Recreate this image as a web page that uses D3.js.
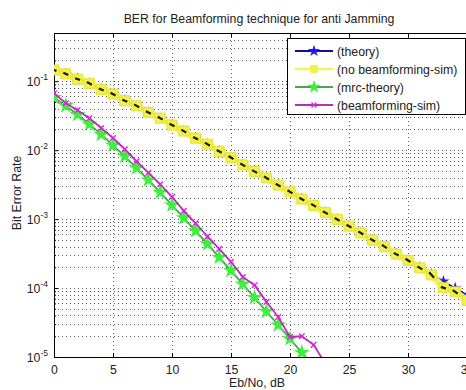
<!DOCTYPE html>
<html>
<head>
<meta charset="utf-8">
<script src="https://cdn.jsdelivr.net/npm/d3@7"></script>
<style>
  body { margin: 0; background: #fff; }
  text { font-family: "Liberation Sans", Arial, sans-serif; fill: #222; }
</style>
</head>
<body>
<div id="chart"></div>
<script>
// Eb/No (dB) for every series
const ebno = d3.range(0, 36);

// series values
const theory = [0.146, 0.127, 0.108, 0.092, 0.077, 0.064, 0.053, 0.0435, 0.0355, 0.0288,
  0.0233, 0.0187, 0.0151, 0.0121, 0.00967, 0.00774, 0.00617, 0.00492, 0.00392, 0.00312,
  0.00248, 0.00197, 0.00157, 0.00125, 0.000993, 0.000789, 0.000627, 0.000498, 0.000396, 0.000315,
  0.00025, 0.000199, 0.000158, 0.000125, 0.0000996, 0.0000791];
const noBfSim = [0.145, 0.128, 0.107, 0.093, 0.076, 0.065, 0.052, 0.044, 0.0352, 0.0291,
  0.0231, 0.0189, 0.0149, 0.0122, 0.0096, 0.0078, 0.0061, 0.0049, 0.00395, 0.0031,
  0.00249, 0.00195, 0.00158, 0.00124, 0.00099, 0.00079, 0.00063, 0.000495, 0.0004, 0.00031,
  0.000252, 0.000196, 0.000155, 0.000101, 0.000088, 0.000066];
const mrcTheory = [0.058, 0.0441, 0.0328, 0.0238, 0.0169, 0.0118, 0.00813, 0.00551, 0.00369, 0.00244,
  0.0016, 0.00104, 0.000677, 0.000436, 0.000279, 0.000179, 0.000114, 0.0000724, 0.000046, 0.0000291,
  0.0000184, 0.0000116, 0.0000074];
const bfSim = [0.067, 0.048, 0.038, 0.029, 0.021, 0.015, 0.0103, 0.0069, 0.0047, 0.0032,
  0.0021, 0.00132, 0.00087, 0.00056, 0.00037, 0.00024, 0.000145, 0.00011, 0.000063, 0.000038,
  0.0000195, 0.00002, 0.000015, 0.000008];

const xTicks = [0, 5, 10, 15, 20, 25, 30, 35];
const yDecades = [1e-5, 1e-4, 1e-3, 1e-2, 1e-1];
const yExponents = ['-5', '-4', '-3', '-2', '-1'];
const legendLabels = ['(theory)', '(no beamforming-sim)', '(mrc-theory)', '(beamforming-sim)'];

const W = 466, H = 390;
const FS = '12.3px';
const margin = { top: 33, right: -1, bottom: 33, left: 54 };
const pLeft = margin.left, pRight = W - margin.right;
const pTop = margin.top, pBottom = H - margin.bottom;

const svg = d3.select('#chart').append('svg')
  .attr('width', W).attr('height', H);

const x = d3.scaleLinear().domain([0, 35]).range([pLeft, pRight]);
const y = d3.scaleLog().domain([1e-5, 0.5]).range([pBottom, pTop]);

// minor log values 2..9 inside the domain
const minors = [];
yDecades.forEach(d => d3.range(2, 10).forEach(k => {
  const v = d * k;
  if (v < 0.5) minors.push(v);
}));

// dotted grid
const grid = svg.append('g').attr('stroke', '#333').attr('stroke-width', 1)
  .attr('stroke-dasharray', '1,3').attr('shape-rendering', 'crispEdges');
grid.selectAll('.gy').data(yDecades.slice(1).concat(minors)).enter().append('line')
  .attr('x1', pLeft).attr('x2', pRight)
  .attr('y1', d => Math.round(y(d)) + 0.5).attr('y2', d => Math.round(y(d)) + 0.5)
  .attr('stroke-opacity', 0.8);
grid.selectAll('.gx').data(xTicks.slice(1, -1)).enter().append('line')
  .attr('y1', pTop).attr('y2', pBottom)
  .attr('x1', d => Math.round(x(d)) + 0.5).attr('x2', d => Math.round(x(d)) + 0.5)
  .attr('stroke-opacity', 0.8);

// axes (MATLAB style, ticks inside)
const axB = svg.append('g').attr('transform', `translate(0,${pBottom})`)
  .call(d3.axisBottom(x).tickValues(xTicks).tickSize(-4).tickPadding(8).tickFormat(d3.format('d')));
const axT = svg.append('g').attr('transform', `translate(0,${pTop})`)
  .call(d3.axisTop(x).tickValues(xTicks).tickSize(-4).tickFormat(''));
const axL = svg.append('g').attr('transform', `translate(${pLeft},0)`)
  .call(d3.axisLeft(y).tickValues(yDecades).tickSize(-4).tickFormat(''));
const axLm = svg.append('g').attr('transform', `translate(${pLeft},0)`)
  .call(d3.axisLeft(y).tickValues(minors).tickSize(-2).tickFormat(''));
[axB, axT, axL, axLm].forEach(a => {
  a.select('.domain').attr('stroke', '#000');
  a.selectAll('.tick line').attr('stroke', '#000');
});
axB.selectAll('text').attr('font-size', FS)
  .attr('font-family', '"Liberation Sans", Arial, sans-serif').attr('fill', '#222');
axLm.select('.domain').remove();

// y tick labels 10^k
const yl = svg.append('g').selectAll('text').data(yDecades).enter().append('text')
  .attr('x', 48).attr('y', d => y(d) + 5)
  .attr('text-anchor', 'end').attr('font-size', FS);
yl.append('tspan').text('10');
yl.append('tspan').attr('dy', -6).attr('font-size', '8.5px').text((d, i) => yExponents[i]);

// clip to plot area
svg.append('clipPath').attr('id', 'clip').append('rect')
  .attr('x', pLeft).attr('y', pTop).attr('width', pRight - pLeft).attr('height', pBottom - pTop);
const plot = svg.append('g').attr('clip-path', 'url(#clip)');

const line = d3.line().x(d => x(d[0])).y(d => y(d[1]));
const pts = vals => vals.map((v, i) => [ebno[i], v]);

const star = d3.symbol().type(d3.symbolStar);
const cross = d3.symbol().type(d3.symbolX);
const square = d3.symbol().type(d3.symbolSquare);

// theory (blue)
plot.append('path').datum(pts(theory)).attr('d', line)
  .attr('fill', 'none').attr('stroke', '#10109a').attr('stroke-width', 1.8);
plot.selectAll('.ts').data(pts(theory)).enter().append('path')
  .attr('transform', d => `translate(${x(d[0])},${y(d[1])})`)
  .attr('d', star.size(45)()).attr('fill', '#1a1aff');

// no beamforming sim (yellow band, square markers, black dashes)
const nb = pts(noBfSim);
const slope = i => (y(nb[i + 1][1]) - y(nb[i][1])) / (x(nb[i + 1][0]) - x(nb[i][0]));
plot.append('path').datum(nb).attr('d', line)
  .attr('fill', 'none').attr('stroke', '#f4f25a').attr('stroke-width', 7).attr('stroke-opacity', 0.92);
plot.selectAll('.ns').data(nb).enter().append('path')
  .attr('transform', d => `translate(${x(d[0])},${y(d[1])})`)
  .attr('d', square.size(100)()).attr('fill', '#f2f04a').attr('stroke', '#e6e23a').attr('stroke-width', 1);
plot.selectAll('.nd').data(nb.slice(0, -1)).enter().append('line')
  .attr('x1', d => x(d[0]) - 2.5)
  .attr('y1', (d, i) => y(d[1]) - 2.5 * slope(i))
  .attr('x2', d => x(d[0]) + 2.5)
  .attr('y2', (d, i) => y(d[1]) + 2.5 * slope(i))
  .attr('stroke', '#1a1a1a').attr('stroke-width', 2.2);

// mrc theory (green)
plot.append('path').datum(pts(mrcTheory)).attr('d', line)
  .attr('fill', 'none').attr('stroke', '#45a84a').attr('stroke-width', 1.8);
plot.selectAll('.ms').data(pts(mrcTheory)).enter().append('path')
  .attr('transform', d => `translate(${x(d[0])},${y(d[1])})`)
  .attr('d', star.size(80)()).attr('fill', '#3cf03c');

// beamforming sim (magenta)
plot.append('path').datum(pts(bfSim)).attr('d', line)
  .attr('fill', 'none').attr('stroke', '#b530b5').attr('stroke-width', 1.8);
plot.selectAll('.bs').data(pts(bfSim)).enter().append('path')
  .attr('transform', d => `translate(${x(d[0])},${y(d[1])})`)
  .attr('d', cross.size(22)()).attr('fill', 'none').attr('stroke', '#e020e0').attr('stroke-width', 1.4);

// legend
const lg = svg.append('g');
lg.append('rect').attr('x', 287.5).attr('y', 38.5).attr('width', 178).attr('height', 76)
  .attr('fill', '#fff').attr('stroke', '#000');
const legendStyle = [
  { stroke: '#10109a', mark: star.size(45)(), fill: '#1a1aff', width: 1.8 },
  { stroke: '#f4f25a', mark: square.size(60)(), fill: '#f2f04a', width: 2.5 },
  { stroke: '#45a84a', mark: star.size(55)(), fill: '#3cf03c', width: 1.8 },
  { stroke: '#b530b5', mark: cross.size(18)(), fill: 'none', width: 1.8 }
];
const items = lg.selectAll('.li').data(legendLabels).enter().append('g')
  .attr('transform', (d, i) => `translate(0,${51 + i * 18})`);
items.append('line').attr('x1', 295).attr('x2', 333)
  .attr('stroke', (d, i) => legendStyle[i].stroke).attr('stroke-width', (d, i) => legendStyle[i].width);
items.append('path').attr('transform', 'translate(314,0)')
  .attr('d', (d, i) => legendStyle[i].mark)
  .attr('fill', (d, i) => legendStyle[i].fill)
  .attr('stroke', (d, i) => i === 3 ? '#e020e0' : 'none').attr('stroke-width', 1.4);
items.append('text').attr('x', 337).attr('y', 4.5).attr('font-size', FS).text(d => d);

// title and axis labels
svg.append('text').attr('x', 259).attr('y', 23).attr('text-anchor', 'middle')
  .attr('font-size', FS).text('BER for Beamforming technique for anti Jamming');
svg.append('text').attr('x', 257).attr('y', 387).attr('text-anchor', 'middle')
  .attr('font-size', FS).text('Eb/No, dB');
svg.append('text').attr('transform', 'translate(21,193) rotate(-90)').attr('text-anchor', 'middle')
  .attr('font-size', FS).text('Bit Error Rate');
</script>
</body>
</html>
